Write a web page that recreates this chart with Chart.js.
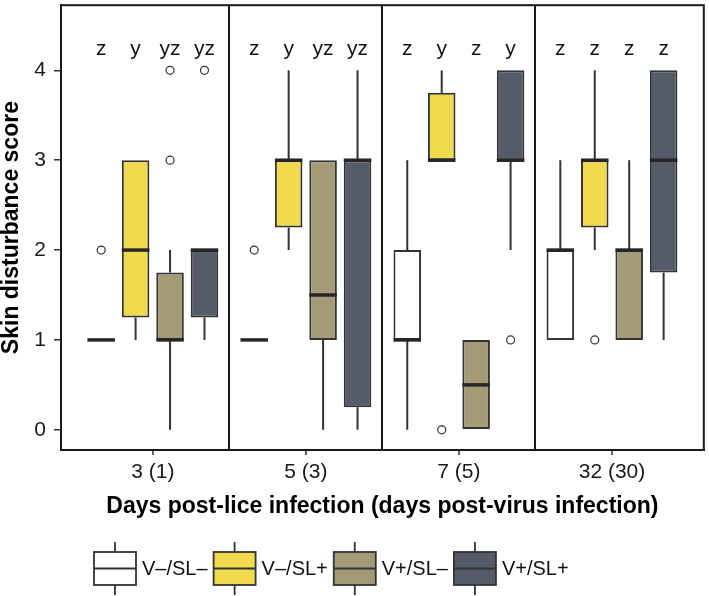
<!DOCTYPE html>
<html>
<head>
<meta charset="utf-8">
<script src="https://cdn.jsdelivr.net/npm/chart.js@4"></script>
<style>
  html, body { margin: 0; padding: 0; background: #fff; }
  #wrap { width: 709px; height: 596px; }
</style>
</head>
<body>
<div id="wrap"><canvas id="myChart"></canvas></div>
<script>
// days post-lice infection (days post-virus infection)
const days = ['3 (1)', '5 (3)', '7 (5)', '32 (30)'];
const groups = ['V\u2013/SL\u2013', 'V\u2013/SL+', 'V+/SL\u2013', 'V+/SL+'];

// per day: [lower whisker, Q1, median, Q3, upper whisker]
const vMinusSlMinus = [[1, 1, 1, 1, 1], [1, 1, 1, 1, 1], [0, 1, 1, 2, 3], [1, 1, 2, 2, 3]];
const vMinusSlPlus = [[1, 1.25, 2, 3, 3], [2, 2.25, 3, 3, 4], [3, 3, 3, 3.75, 4], [2, 2.25, 3, 3, 4]];
const vPlusSlMinus = [[0, 1, 1, 1.75, 2], [0, 1, 1.5, 3, 3], [0, 0, 0.5, 1, 1], [1, 1, 2, 2, 3]];
const vPlusSlPlus = [[1, 1.25, 2, 2, 2], [0, 0.25, 3, 3, 4], [2, 3, 3, 4, 4], [1, 1.75, 3, 4, 4]];

// outliers: [day index, score]
const outVMinusSlMinus = [[0, 2], [1, 2]];
const outVMinusSlPlus = [[2, 0], [3, 1]];
const outVPlusSlMinus = [[0, 3], [0, 4]];
const outVPlusSlPlus = [[0, 4], [2, 1]];

// letters over each box, per day
const letters = [['z', 'y', 'yz', 'yz'], ['z', 'y', 'yz', 'yz'], ['z', 'y', 'z', 'y'], ['z', 'z', 'z', 'z']];

const summaries = [vMinusSlMinus, vMinusSlPlus, vPlusSlMinus, vPlusSlPlus];
const outliers = [outVMinusSlMinus, outVMinusSlPlus, outVPlusSlMinus, outVPlusSlPlus];
const fills = ['#ffffff', '#f1da4e', '#a39b78', '#555b69'];
const ink = '#333333';
const dodge = 0.225;
const letterLevel = 4.23;

function xPos(d, k) {
  return d + 1 + (k - 1.5) * dodge;
}

Chart.defaults.font.family = '"Liberation Sans", Arial, Helvetica, sans-serif';
Chart.defaults.color = '#1a1a1a';

const boxSets = groups.map((g, k) => ({
  type: 'bar',
  label: g,
  data: summaries[k].map((s, d) => ({x: xPos(d, k), y: [s[1], s[3]], stats: s})),
  backgroundColor: fills[k],
  borderColor: ink,
  borderWidth: 2,
  borderSkipped: false,
  grouped: false,
  barPercentage: 0.8,
  categoryPercentage: 1,
  order: 2
}));

const outlierSet = {
  type: 'scatter',
  label: 'outliers',
  data: outliers.flatMap((list, k) => list.map(([d, v]) => ({x: xPos(d, k), y: v}))),
  pointRadius: 4,
  pointBackgroundColor: '#ffffff',
  pointBorderColor: ink,
  pointBorderWidth: 1.2,
  order: 1
};

// whiskers behind the boxes, medians on top
const boxParts = {
  id: 'boxParts',
  beforeDatasetsDraw(chart) {
    const ctx = chart.ctx, yS = chart.scales.y;
    ctx.save();
    ctx.strokeStyle = ink;
    ctx.lineWidth = 2;
    chart.data.datasets.forEach((ds, i) => {
      if (ds.type !== 'bar') return;
      chart.getDatasetMeta(i).data.forEach((bar, j) => {
        const s = ds.data[j].stats;
        ctx.beginPath();
        if (s[0] < s[1]) { ctx.moveTo(bar.x, yS.getPixelForValue(s[0])); ctx.lineTo(bar.x, yS.getPixelForValue(s[1])); }
        if (s[4] > s[3]) { ctx.moveTo(bar.x, yS.getPixelForValue(s[3])); ctx.lineTo(bar.x, yS.getPixelForValue(s[4])); }
        ctx.stroke();
      });
    });
    ctx.restore();
  },
  afterDatasetsDraw(chart) {
    const ctx = chart.ctx, yS = chart.scales.y, area = chart.chartArea;
    ctx.save();
    ctx.strokeStyle = '#262626';
    ctx.lineWidth = 3.5;
    chart.data.datasets.forEach((ds, i) => {
      if (ds.type !== 'bar') return;
      chart.getDatasetMeta(i).data.forEach((bar, j) => {
        const y = yS.getPixelForValue(ds.data[j].stats[2]);
        ctx.beginPath();
        ctx.moveTo(bar.x - bar.width / 2, y);
        ctx.lineTo(bar.x + bar.width / 2, y);
        ctx.stroke();
      });
    });
    // letters
    ctx.fillStyle = '#111';
    ctx.font = '21px "Liberation Sans", Arial, sans-serif';
    ctx.textAlign = 'center';
    ctx.textBaseline = 'middle';
    letters.forEach((row, d) => row.forEach((t, k) => {
      ctx.fillText(t, chart.scales.x.getPixelForValue(xPos(d, k)), yS.getPixelForValue(letterLevel));
    }));
    // panel frame
    ctx.strokeStyle = '#1a1a1a';
    ctx.lineWidth = 2;
    ctx.strokeRect(area.left, area.top, area.right - area.left, area.bottom - area.top);
    ctx.restore();
  }
};

const boxLegend = {
  id: 'boxLegend',
  afterDraw(chart) {
    const ctx = chart.ctx;
    const bw = 42, bh = 33, cy = 568.5;
    let x = 94;
    ctx.save();
    ctx.font = '20px "Liberation Sans", Arial, sans-serif';
    ctx.textBaseline = 'middle';
    ctx.textAlign = 'left';
    groups.forEach((g, k) => {
      ctx.strokeStyle = ink;
      ctx.lineWidth = 1.8;
      ctx.beginPath();
      ctx.moveTo(x + bw / 2, cy - bh / 2 - 10);
      ctx.lineTo(x + bw / 2, cy + bh / 2 + 10);
      ctx.stroke();
      ctx.fillStyle = fills[k];
      ctx.fillRect(x, cy - bh / 2, bw, bh);
      ctx.strokeRect(x, cy - bh / 2, bw, bh);
      ctx.beginPath();
      ctx.moveTo(x, cy);
      ctx.lineTo(x + bw, cy);
      ctx.stroke();
      ctx.fillStyle = '#111';
      ctx.fillText(g, x + bw + 6, cy + 1);
      x += bw + 6 + ctx.measureText(g).width + 6;
    });
    ctx.restore();
  }
};

const isHalf = c => !!(c && c.tick && !Number.isInteger(c.tick.value));
const isWhole = c => !!(c && c.tick && Number.isInteger(c.tick.value));

const config = {
  data: {datasets: [...boxSets, outlierSet]},
  options: {
    responsive: true,
    maintainAspectRatio: false,
    animation: false,
    layout: {padding: {top: 1, right: 1, bottom: 56, left: 0}},
    plugins: {
      legend: {display: false},
      tooltip: {enabled: false}
    },
    scales: {
      x: {
        type: 'linear',
        offset: false,
        min: 0.4,
        max: 4.6,
        afterBuildTicks: s => { s.ticks = [1, 1.5, 2, 2.5, 3, 3.5, 4].map(v => ({value: v})); },
        afterFit: s => { s.height = 90; },
        ticks: {
          autoSkip: false,
          maxRotation: 0,
          padding: 5,
          font: {size: 21},
          callback: v => (Number.isInteger(v) ? days[v - 1] : '')
        },
        grid: {
          offset: false,
          drawOnChartArea: true,
          color: c => (isHalf(c) ? '#1a1a1a' : 'rgba(0,0,0,0)'),
          tickColor: c => (isWhole(c) ? ink : 'rgba(0,0,0,0)'),
          lineWidth: 2,
          tickWidth: 1.5,
          tickLength: 5
        },
        border: {display: true, color: '#1a1a1a', width: 2},
        title: {
          display: true,
          text: 'Days post-lice infection (days post-virus infection)',
          color: '#000',
          font: {size: 23, weight: 'bold'},
          padding: {top: 0, bottom: 20}
        }
      },
      y: {
        min: -0.225,
        max: 4.725,
        afterBuildTicks: s => { s.ticks = [0, 1, 2, 3, 4].map(v => ({value: v})); },
        afterFit: s => { s.width = 61; s.paddingTop = 0; s.paddingBottom = 0; },
        ticks: {padding: 8, font: {size: 21}},
        grid: {drawOnChartArea: false, tickLength: 7, color: ink, lineWidth: 1.5},
        border: {display: true, color: '#1a1a1a', width: 2},
        title: {
          display: true,
          text: 'Skin disturbance score',
          color: '#000',
          font: {size: 23, weight: 'bold', lineHeight: 1},
          padding: 0
        }
      }
    }
  },
  plugins: [boxParts, boxLegend]
};

const myChart = new Chart(document.getElementById('myChart'), config);
</script>
</body>
</html>
